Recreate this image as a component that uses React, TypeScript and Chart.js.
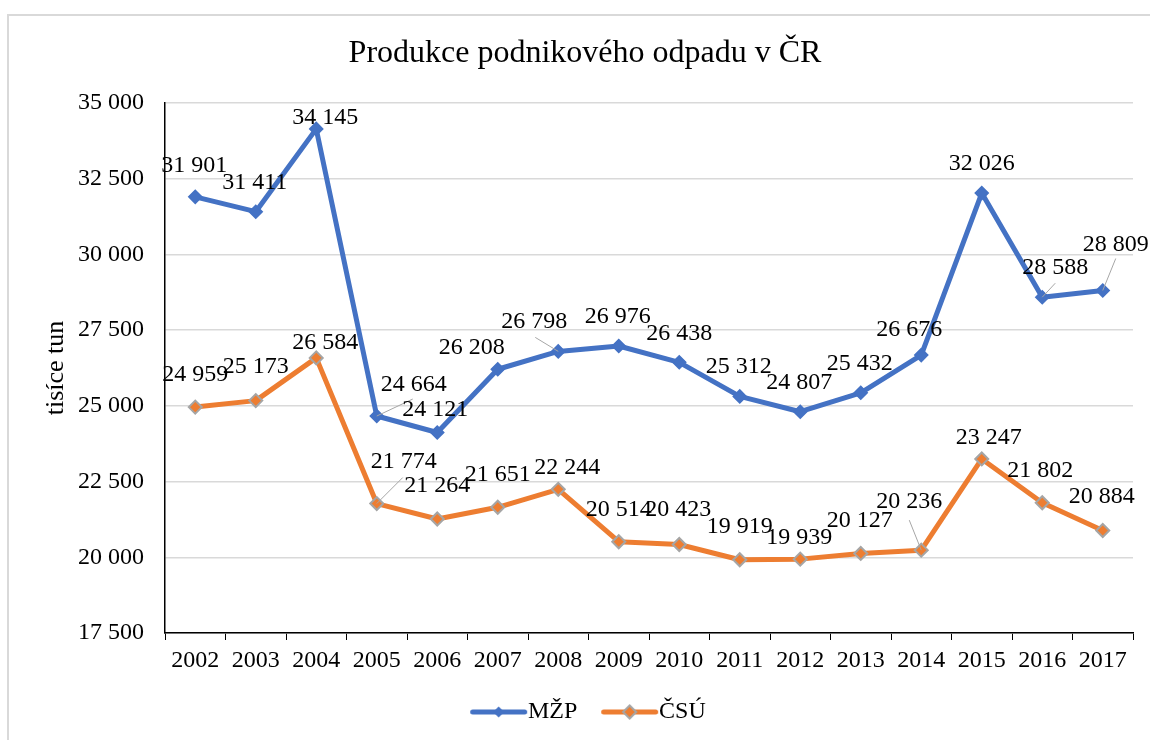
import React, { useEffect, useRef } from "react";
import { Chart, registerables } from "chart.js";

Chart.register(...registerables);

const years = ["2002","2003","2004","2005","2006","2007","2008","2009","2010","2011","2012","2013","2014","2015","2016","2017"];
const mzp = [31901, 31411, 34145, 24664, 24121, 26208, 26798, 26976, 26438, 25312, 24807, 25432, 26676, 32026, 28588, 28809];
const csu = [24959, 25173, 26584, 21774, 21264, 21651, 22244, 20514, 20423, 19919, 19939, 20127, 20236, 23247, 21802, 20884];
const seriesNames = ["MŽP", "ČSÚ"];
const chartTitle = "Produkce podnikového odpadu v ČR";
const yTitle = "tisíce tun";
const yMin = 17500;
const yMax = 35000;
const yStep = 2500;

// label placement (offset of label centre from its point), layout only
const labelOffsetsMzp = [[-1,-31],[-1,-29],[9,-11],[37,-31],[-2,-23],[-26,-22],[-24,-30],[-1,-29],[0,-29],[-1,-30],[-1,-29],[-1,-29],[-12,-25],[0,-29],[13,-29],[13,-46]];
const labelOffsetsCsu = [[0,-32],[0,-34],[9,-15],[27,-42],[0,-33],[0,-33],[9,-22],[0,-32],[-1,-35],[0,-33],[-1,-21],[-1,-33],[-12,-48],[7,-21],[-2,-32],[-1,-34]];
const leadersMzp: (number[] | null)[] = [null,null,null,[36,-17],null,null,[-23,-14],null,null,null,null,null,null,null,[13,-14],[13,-32]];
const leadersCsu: (number[] | null)[] = [null,null,null,[26,-26],null,null,null,null,null,null,null,null,[-12,-30],null,null,null];

const FONT = "Liberation Serif";
const BLUE = "#4472C4";
const ORANGE = "#ED7D31";
const GRAY = "#A5A5A5";

const fmt = (v: number) => String(v).replace(/\B(?=(\d{3})+(?!\d))/g, " ");

function legendImage(color: string, fill: string, stroke: string, r: number, sw: number) {
  const c = document.createElement("canvas");
  c.width = 90;
  c.height = 24;
  const g = c.getContext("2d")!;
  const cx = 45 + 8.5;
  const cy = 12;
  g.strokeStyle = color;
  g.lineWidth = 5;
  g.lineCap = "round";
  g.beginPath();
  g.moveTo(cx - 26, cy);
  g.lineTo(cx + 26, cy);
  g.stroke();
  g.beginPath();
  g.moveTo(cx - r, cy);
  g.lineTo(cx, cy - r);
  g.lineTo(cx + r, cy);
  g.lineTo(cx, cy + r);
  g.closePath();
  g.fillStyle = fill;
  g.fill();
  g.strokeStyle = stroke;
  g.lineWidth = sw;
  g.stroke();
  return c;
}

const pointLabels = {
  id: "pointLabels",
  afterDatasetsDraw(chart: any) {
    const ctx = chart.ctx;
    const offs = [labelOffsetsMzp, labelOffsetsCsu];
    const leads = [leadersMzp, leadersCsu];
    ctx.save();
    ctx.font = `24px "${FONT}"`;
    ctx.textAlign = "center";
    ctx.textBaseline = "middle";
    chart.data.datasets.forEach((ds: any, di: number) => {
      const meta = chart.getDatasetMeta(di);
      meta.data.forEach((pt: any, i: number) => {
        const x = pt.x;
        const y = pt.y;
        const ld = leads[di][i];
        if (ld) {
          ctx.strokeStyle = "#A6A6A6";
          ctx.lineWidth = 1;
          ctx.beginPath();
          ctx.moveTo(x, y);
          ctx.lineTo(x + ld[0], y + ld[1]);
          ctx.stroke();
        }
        const o = offs[di][i];
        ctx.fillStyle = "#000";
        ctx.fillText(fmt(ds.data[i]), x + o[0], y + o[1]);
      });
    });
    ctx.restore();
  },
};

export default function App() {
  const ref = useRef<HTMLCanvasElement>(null);
  useEffect(() => {
    if (!ref.current) return;
    const imgs = [
      legendImage(BLUE, BLUE, BLUE, 4.5, 1.5),
      legendImage(ORANGE, ORANGE, GRAY, 6.5, 2),
    ];
    Chart.defaults.color = "#000";
    const chart = new Chart(ref.current, {
      type: "line",
      data: {
        labels: years,
        datasets: [
          {
            label: seriesNames[0],
            data: mzp,
            borderColor: BLUE,
            backgroundColor: BLUE,
            borderWidth: 5,
            borderJoinStyle: "round",
            borderCapStyle: "round",
            pointStyle: "rectRot",
            pointRadius: 6.5,
            pointBorderWidth: 1.5,
            pointBackgroundColor: BLUE,
            pointBorderColor: BLUE,
            tension: 0,
          },
          {
            label: seriesNames[1],
            data: csu,
            borderColor: ORANGE,
            backgroundColor: ORANGE,
            borderWidth: 5,
            borderJoinStyle: "round",
            borderCapStyle: "round",
            pointStyle: "rectRot",
            pointRadius: 6.5,
            pointBorderWidth: 2,
            pointBackgroundColor: ORANGE,
            pointBorderColor: GRAY,
            tension: 0,
          },
        ],
      },
      options: {
        responsive: false,
        animation: false,
        devicePixelRatio: 1,
        layout: { padding: { left: 0, right: 0, top: 0, bottom: 6 } },
        scales: {
          x: {
            type: "category",
            offset: true,
            grid: { offset: true, drawOnChartArea: false, color: "#000", lineWidth: 1, tickLength: 7 },
            border: { color: "#000", width: 1.5 },
            ticks: { font: { family: FONT, size: 24 }, color: "#000", padding: 6, maxRotation: 0, autoSkip: false },
            afterFit: (s: any) => { s.height = 49; },
          },
          y: {
            min: yMin,
            max: yMax,
            position: "left",
            grid: { color: "#D9D9D9", lineWidth: 1.5, drawTicks: false },
            border: { color: "#000", width: 1.5 },
            ticks: { stepSize: yStep, font: { family: FONT, size: 24 }, color: "#000", padding: 21, callback: (v: any) => fmt(Number(v)) },
            title: { display: true, text: yTitle, font: { family: FONT, size: 26 }, color: "#000", padding: { top: 41, bottom: 0 } },
            afterFit: (s: any) => { s.width = 165; },
          },
          y2: {
            position: "right",
            display: true,
            grid: { display: false, drawTicks: false },
            border: { display: false },
            ticks: { display: false },
            afterFit: (s: any) => { s.width = 37; },
          },
        },
        plugins: {
          title: {
            display: true,
            text: chartTitle,
            font: { family: FONT, size: 32, weight: "normal" },
            color: "#000",
            padding: { top: 34, bottom: 30.6 },
          },
          legend: {
            position: "bottom",
            labels: {
              usePointStyle: true,
              pointStyleWidth: 51.7,
              padding: 18,
              color: "#000",
              font: { family: FONT, size: 24 },
              generateLabels: (c: any) => {
                const items = (Chart.defaults.plugins.legend.labels as any).generateLabels(c);
                return items.map((it: any, i: number) => ({ ...it, pointStyle: imgs[i] }));
              },
            },
          },
          tooltip: { enabled: false },
        },
      } as any,
      plugins: [pointLabels],
    });
    return () => chart.destroy();
  }, []);

  return (
    <div style={{ position: "fixed", left: 0, top: 0, width: 1150, height: 740, overflow: "hidden", background: "#fff" }}>
      <div style={{ position: "absolute", left: 7, top: 14, width: 1200, height: 800, border: "2px solid #D9D9D9", boxSizing: "border-box" }} />
      <canvas ref={ref} width={1170} height={740} style={{ position: "absolute", left: 0, top: 0, width: 1170, height: 740 }} />
    </div>
  );
}
